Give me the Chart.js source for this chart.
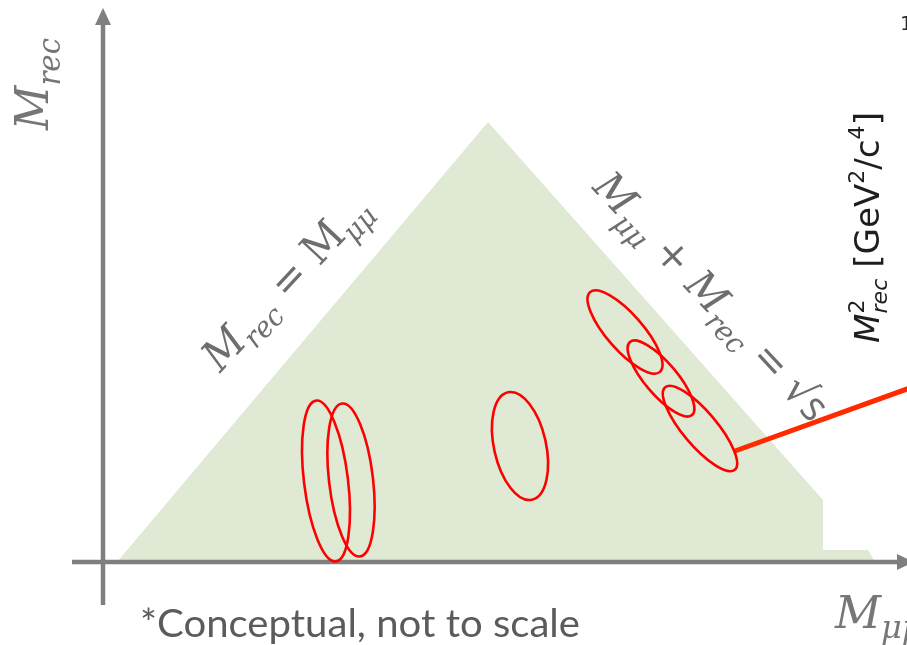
<!DOCTYPE html>
<html>
<head>
<meta charset="utf-8">
<script src="https://cdn.jsdelivr.net/npm/chart.js@4.4.1/dist/chart.umd.min.js"></script>
<style>
  html, body { margin: 0; padding: 0; background: #fff; overflow: hidden; }
  canvas { display: block; }
</style>
</head>
<body>
<canvas id="phase" width="907" height="645"></canvas>
<script>
// Kinematically allowed region in the (M_mumu, M_rec) plane
const regionX = [1.4, 38.5, 72.0, 72.0, 76.5, 77.2];
const regionY = [0.0, 44.0, 6.2, 1.2, 1.2, 0.0];

// Signal blobs: centre, semi-axes and tilt of the major axis (deg)
const blobX     = [22.3, 24.8, 41.7, 52.2, 55.8, 59.7];
const blobY     = [8.1, 8.2, 11.6, 23.0, 18.35, 13.35];
const blobMajor = [8.1, 7.7, 5.5, 5.3, 4.8, 5.4];
const blobMinor = [2.2, 2.2, 2.6, 1.8, 1.6, 1.7];
const blobTilt  = [97, 96.7, 102.6, -48.8, -49.7, -49.9];

// Pointer from the last blob towards the recoil-mass spectrum
const leadX = [63.2, 84.0];
const leadY = [11.1, 18.6];

// Axis extents (line end, arrow base, arrow tip)
const xAxisFrom = -3.1, xAxisBase = 79.4, xAxisTip = 81.1;
const yAxisFrom = -4.3, yAxisBase = 53.7, yAxisTip = 55.4;

const AXIS_GREY  = '#7f7f7f';
const LABEL_GREY = '#6e6e6e';
const MATH = 'DejaVu Serif';

// ─── text helpers ─────────────────────────────────────────────────────────

/** Draw a row of text runs (for sub/superscripts), optionally squeezed to a width */
function drawRuns(ctx, runs, ax, ay, angle, width, align, color) {
    let pos = 0, total = 0, prevStart = 0;
    const placed = runs.map(r => {
        ctx.font = r.font;
        const w = ctx.measureText(r.t).width;
        const start = r.stack ? prevStart : pos;
        prevStart = start;
        pos = Math.max(pos, start + w);
        total = Math.max(total, pos);
        return { ...r, x: start };
    });
    ctx.save();
    ctx.translate(ax, ay);
    ctx.rotate(angle * Math.PI / 180);
    if (width) ctx.scale(width / total, 1);
    if (align === 'center') ctx.translate(-total / 2, 0);
    ctx.fillStyle = color;
    ctx.textBaseline = 'alphabetic';
    ctx.textAlign = 'left';
    placed.forEach(r => {
        ctx.font = r.font;
        ctx.fillText(r.t, r.x, r.dy || 0);
    });
    ctx.restore();
}

const it  = (s) => `italic ${s}px "${MATH}"`;
const up  = (s) => `${s}px "${MATH}"`;
const sans = (s, style) => `${style || ''} ${s}px "DejaVu Sans"`;

// ─── drawing plugin: arrows, blobs, labels ────────────────────────────────

const sketch = {
    id: 'sketch',
    afterDatasetsDraw(chart) {
        const { ctx, scales: { x, y } } = chart;
        const px = v => x.getPixelForValue(v);
        const py = v => y.getPixelForValue(v);
        const unit = px(1) - px(0);

        ctx.save();

        // arrow heads
        ctx.fillStyle = AXIS_GREY;
        ctx.beginPath();
        ctx.moveTo(px(0), py(yAxisTip));
        ctx.lineTo(px(0) - 8, py(yAxisBase));
        ctx.lineTo(px(0) + 8, py(yAxisBase));
        ctx.closePath();
        ctx.fill();
        ctx.beginPath();
        ctx.moveTo(px(xAxisTip), py(0));
        ctx.lineTo(px(xAxisBase), py(0) - 8);
        ctx.lineTo(px(xAxisBase), py(0) + 8);
        ctx.closePath();
        ctx.fill();

        // signal ellipses
        ctx.strokeStyle = '#ff0000';
        ctx.lineWidth = 2.6;
        blobX.forEach((cx, i) => {
            ctx.beginPath();
            ctx.ellipse(px(cx), py(blobY[i]), blobMajor[i] * unit, blobMinor[i] * unit,
                        -blobTilt[i] * Math.PI / 180, 0, 2 * Math.PI);
            ctx.stroke();
        });
        ctx.restore();

        // vertical axis title
        drawRuns(ctx, [
            { t: 'M', font: it(46) },
            { t: 'rec', font: it(31), dy: 12 }
        ], px(-5.5), py(43.2), -90, 92, 'left', '#767676');

        // diagonal M_rec = M_mumu
        drawRuns(ctx, [
            { t: 'M', font: it(43) },
            { t: 'rec', font: it(29), dy: 10 },
            { t: ' = ', font: up(43) },
            { t: 'M', font: up(43) },
            { t: 'μμ', font: it(29), dy: 10 }
        ], px(19.3), py(27.0), -47, 222, 'center', LABEL_GREY);

        // diagonal M_mumu + M_rec = sqrt(s)
        drawRuns(ctx, [
            { t: 'M', font: it(42) },
            { t: 'μμ', font: it(29), dy: 10 },
            { t: ' + ', font: up(42) },
            { t: 'M', font: it(42) },
            { t: 'rec', font: it(29), dy: 10 },
            { t: ' = ', font: up(42) },
            { t: '√', font: up(42) },
            { t: 's', font: '42px "Open Sans"' }
        ], px(59.8), py(25.6), 47, 322, 'center', LABEL_GREY);

        // horizontal axis title
        drawRuns(ctx, [
            { t: 'M', font: it(45) },
            { t: 'μμ', font: it(32), dy: 10 }
        ], px(73.2), py(-6.6), 0, 0, 'left', '#777777');

        // spectrum panel axis title on the right
        drawRuns(ctx, [
            { t: 'M', font: sans(34, 'italic') },
            { t: '2', font: sans(22), dy: -15 },
            { t: 'rec', font: sans(22, 'italic'), dy: 8, stack: true },
            { t: ' [GeV', font: sans(34) },
            { t: '2', font: sans(22), dy: -15 },
            { t: '/c', font: sans(34) },
            { t: '4', font: sans(22), dy: -15 },
            { t: ']', font: sans(34) }
        ], px(77.6), py(21.9), -90, 231, 'left', '#1e1e1e');

        drawRuns(ctx, [{ t: '1', font: sans(20) }], px(79.7), py(53.2), 0, 0, 'left', '#2a2a2a');

        // footnote
        drawRuns(ctx, [{ t: '*Conceptual, not to scale', font: '39px Lato' }],
                 px(3.7), py(-7.5), 0, 440, 'left', '#5b5b5b');
    }
};

const pts = (xs, ys) => xs.map((v, i) => ({ x: v, y: ys[i] }));

new Chart(document.getElementById('phase'), {
    type: 'scatter',
    data: {
        datasets: [
            {
                data: pts(leadX, leadY),
                showLine: true, borderColor: '#ff2a00', borderWidth: 5,
                pointRadius: 0, order: 0
            },
            {
                data: pts([0, 0], [yAxisFrom, yAxisBase]),
                showLine: true, borderColor: AXIS_GREY, borderWidth: 4.5,
                pointRadius: 0, order: 1
            },
            {
                data: pts([xAxisFrom, xAxisBase], [0, 0]),
                showLine: true, borderColor: AXIS_GREY, borderWidth: 4.5,
                pointRadius: 0, order: 1
            },
            {
                data: pts(regionX, regionY),
                showLine: true, fill: 'origin', borderWidth: 0,
                borderColor: 'rgba(0,0,0,0)', backgroundColor: '#dfe9d4',
                pointRadius: 0, tension: 0, order: 5
            }
        ]
    },
    options: {
        responsive: false,
        animation: false,
        layout: { padding: 0 },
        plugins: { legend: { display: false }, tooltip: { enabled: false } },
        scales: {
            x: { type: 'linear', display: false, min: -10.3, max: 80.4 },
            y: { type: 'linear', display: false, min: -8.3, max: 56.2 }
        }
    },
    plugins: [sketch]
});
</script>
</body>
</html>
